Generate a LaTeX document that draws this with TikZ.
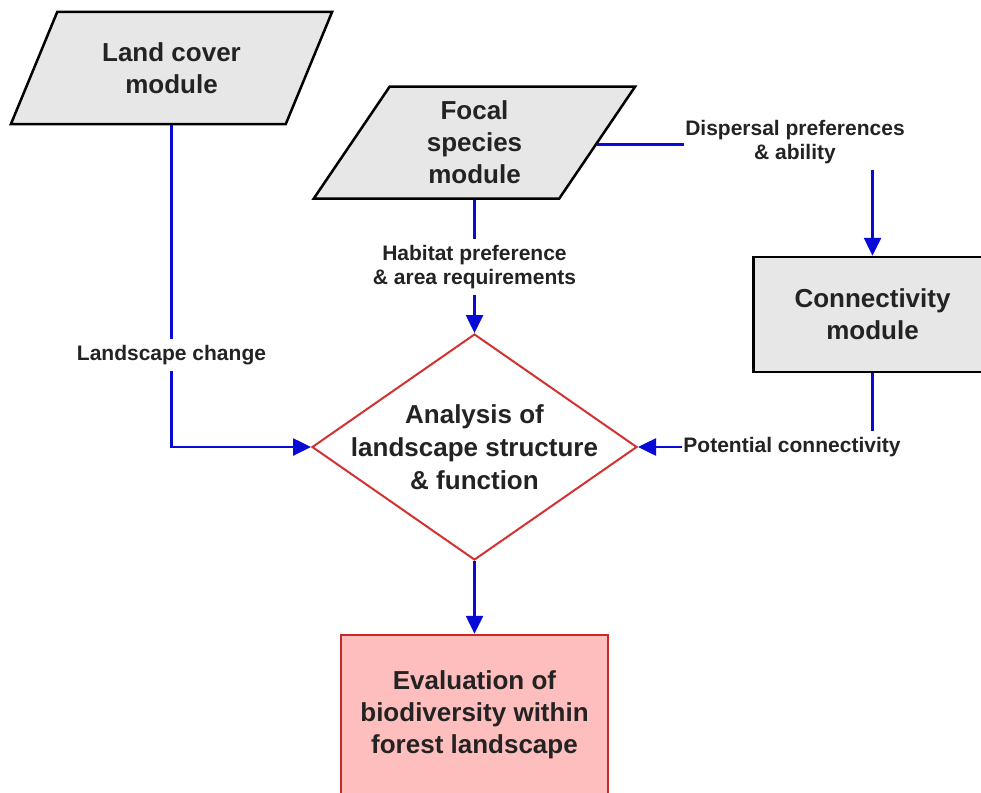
\documentclass[tikz,border=0pt]{standalone}
\usepackage{fontspec}
\setmainfont{Liberation Sans}
\usetikzlibrary{shapes.geometric,arrows.meta,positioning,calc}
\definecolor{modgrey}{RGB}{231,231,231}
\definecolor{flowblue}{RGB}{10,10,215}
\definecolor{diared}{RGB}{210,50,50}
\definecolor{evred}{RGB}{200,40,40}
\definecolor{evpink}{RGB}{255,190,190}
\definecolor{txtgrey}{RGB}{35,35,35}
\begin{document}
\begin{tikzpicture}[x=1pt,y=-1pt,
  module/.style={draw=black, line width=2.5pt, fill=modgrey, align=center,
    text=txtgrey, font=\bfseries\fontsize{26}{32}\selectfont},
  slant/.style={module, trapezium, trapezium left angle=63, trapezium right angle=117,
    trapezium stretches, minimum width=322pt, minimum height=112pt},
  lbl/.style={align=center, text=txtgrey, inner xsep=1pt, inner ysep=6pt,
    font=\bfseries\fontsize{21}{24}\selectfont},
  flow/.style={draw=flowblue, line width=2.6pt},
  arr/.style={flow, -{Triangle[length=18pt,width=17pt]}}]
\useasboundingbox (0,0) rectangle (981,792);
% modules
\node[slant] (lc) at (171.5,68) {Land cover\\module};
\node[slant] (fs) at (474.5,142.5) {Focal\\species\\module};
\node[module, minimum width=238pt, minimum height=115pt] (cm) at (872.5,314.5) {Connectivity\\module};
% analysis and result
\node[diamond, draw=diared, fill=white, line width=2pt, minimum width=325pt, minimum height=226pt] (an) at (474.5,447) {};
\node[align=center, text=txtgrey, font=\bfseries\fontsize{26}{33}\selectfont] (antxt) at (an) {Analysis of\\landscape structure\\\& function};
\node[draw=evred, fill=evpink, line width=2.5pt, minimum width=267pt, minimum height=160pt, align=center,
  text=txtgrey, font=\bfseries\fontsize{26}{32}\selectfont] (ev) at (474.5,715) {Evaluation of\\biodiversity within\\forest landscape};
% labels
\node[lbl] (chg) at (171.5,355) {Landscape change};
\node[lbl] (hab) at (474.5,267) {Habitat preference\\\& area requirements};
\node[lbl] (disp) at (795,142) {Dispersal preferences\\\& ability};
\node[lbl] (pot) at (792,447) {Potential connectivity};
% flows
\draw[flow] (lc.center |- lc.south) -- (chg.north);
\draw[arr] (chg.south) |- (an.west);
\draw[flow] (fs.center |- fs.south) -- (hab.north);
\draw[arr] (hab.south) -- (an.north);
\coordinate (fsr) at ($(fs.top right corner)!0.52!(fs.bottom right corner)$);
\draw[flow] (fsr) -- (fsr -| disp.west);
\draw[arr] (disp.south -| cm.north) -- (cm.north);
\draw[flow] (cm.south) -- (cm.south |- pot.north);
\draw[arr] (pot.west) -- (an.east);
\draw[arr] (an.south) -- (ev.north);
\end{tikzpicture}
\end{document}
